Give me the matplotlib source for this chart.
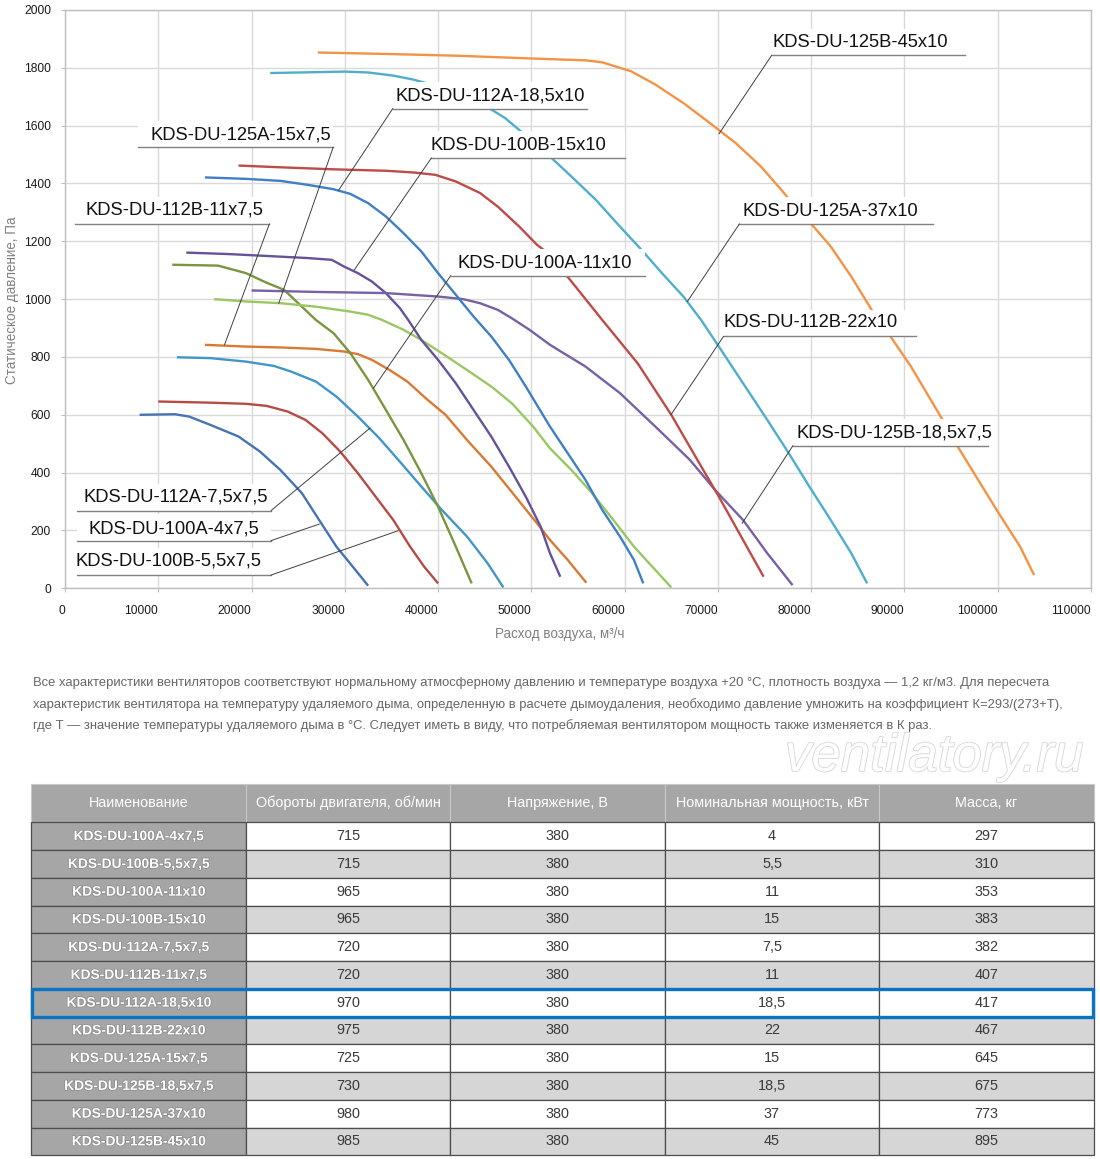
import matplotlib
matplotlib.use('Agg')
import matplotlib.pyplot as plt
from matplotlib import font_manager as fm
from matplotlib.font_manager import FontProperties
from matplotlib.patches import Rectangle
import matplotlib.patheffects as pe

# ---------------- data ----------------
models = ['KDS-DU-100A-4x7,5', 'KDS-DU-100B-5,5x7,5', 'KDS-DU-100A-11x10', 'KDS-DU-100B-15x10',
          'KDS-DU-112A-7,5x7,5', 'KDS-DU-112B-11x7,5', 'KDS-DU-112A-18,5x10', 'KDS-DU-112B-22x10',
          'KDS-DU-125A-15x7,5', 'KDS-DU-125B-18,5x7,5', 'KDS-DU-125A-37x10', 'KDS-DU-125B-45x10']
rpm = [715, 715, 965, 965, 720, 720, 970, 975, 725, 730, 980, 985]
voltage = [380] * 12
power = ['4', '5,5', '11', '15', '7,5', '11', '18,5', '22', '15', '18,5', '37', '45']
mass = [297, 310, 353, 383, 382, 407, 417, 467, 645, 675, 773, 895]
table_header = ['Наименование', 'Обороты двигателя, об/мин', 'Напряжение, В',
                'Номинальная мощность, кВт', 'Масса, кг']

# flow (m3/h) and static pressure (Pa) per fan
q_100A_4 = [8000, 11800, 13300, 15600, 18600, 20900, 23100, 25400, 27250, 29100, 31000, 32500]
p_100A_4 = [600, 602, 594, 565, 525, 473, 409, 329, 236, 144, 69, 9]
q_100B_55 = [10000, 15600, 19400, 21600, 23900, 25800, 27600, 29500, 31400, 33300, 35200, 37000, 38500, 40000]
p_100B_55 = [646, 642, 638, 631, 611, 582, 536, 473, 398, 317, 236, 144, 75, 17]
q_112A_75 = [12000, 15600, 19400, 22400, 24200, 26900, 29100, 31400, 33700, 35900, 38200, 40400, 43100, 45300, 47000]
p_112A_75 = [799, 796, 784, 769, 750, 715, 663, 594, 519, 438, 352, 271, 179, 87, 3]
q_112B_11 = [15000, 19400, 23100, 26900, 29900, 31400, 32900, 34800, 36700, 38900, 40800, 43100, 45700, 48300,
             50600, 52000, 53900, 55900]
p_112B_11 = [842, 836, 833, 828, 819, 810, 790, 755, 715, 651, 600, 513, 421, 317, 225, 167, 98, 19]
q_100A_11 = [11500, 16400, 19400, 21600, 23500, 25400, 26900, 28800, 30600, 32500, 34400, 36300, 38200, 40000,
             41900, 43600]
p_100A_11 = [1119, 1116, 1090, 1057, 1032, 974, 928, 882, 813, 721, 617, 513, 398, 282, 144, 17]
q_125A_15 = [16000, 19400, 23100, 26900, 30600, 32500, 34000, 36300, 38200, 40400, 43100, 45700, 47900, 50200,
             52000, 54300, 56500, 58800, 61000, 63300, 65000]
p_125A_15 = [1000, 992, 986, 974, 957, 946, 928, 894, 859, 813, 755, 698, 640, 559, 484, 409, 329, 236, 144, 63, 3]
q_100B_15 = [13000, 17500, 23100, 26100, 28600, 29900, 31400, 32900, 34400, 35900, 36800, 38200, 40000, 41900,
             43800, 45700, 47600, 49400, 51000, 52000, 53100]
p_100B_15 = [1161, 1156, 1147, 1142, 1136, 1113, 1090, 1061, 1021, 969, 928, 859, 790, 709, 617, 525, 421, 317,
             213, 121, 40]
q_125B_185 = [20000, 26900, 34400, 40000, 42700, 44500, 46400, 47900, 49800, 52000, 55800, 59500, 63300, 67000,
              69700, 72700, 75300, 78000]
p_125B_185 = [1030, 1025, 1021, 1009, 1000, 986, 963, 934, 894, 842, 767, 675, 559, 444, 340, 236, 121, 11]
q_112A_185 = [15000, 19400, 23100, 26100, 28800, 30600, 32500, 34400, 36300, 38200, 40000, 41900, 43800, 45700,
              47600, 49400, 52000, 53900, 55800, 57600, 59500, 61000, 62000]
p_112A_185 = [1421, 1416, 1409, 1395, 1380, 1364, 1332, 1286, 1228, 1165, 1090, 1015, 940, 871, 790, 698, 559,
              467, 375, 271, 179, 98, 17]
q_112B_22 = [18600, 23100, 28800, 34400, 37400, 39700, 41900, 44500, 46400, 48700, 50600, 51700, 54150, 57600,
             61400, 65000, 67800, 70100, 72300, 74900]
p_112B_22 = [1462, 1456, 1449, 1444, 1438, 1430, 1407, 1367, 1320, 1251, 1188, 1161, 1067, 928, 778, 600, 444,
             317, 190, 40]
q_125A_37 = [22000, 26900, 29900, 32500, 35200, 37400, 39300, 42300, 45300, 47200, 49100, 52000, 54300, 56900,
             59500, 61800, 64000, 66300, 68200, 70100, 72700, 75300, 77600, 79800, 82100, 84300, 86000]
p_125A_37 = [1782, 1785, 1787, 1784, 1773, 1759, 1742, 1706, 1664, 1626, 1574, 1493, 1424, 1344, 1251, 1171,
             1090, 1009, 928, 836, 709, 582, 467, 352, 236, 121, 17]
q_125B_45 = [27100, 34400, 41900, 52000, 55800, 57600, 60700, 63300, 66300, 68900, 71900, 74600, 76800, 78300,
             79800, 82100, 84300, 86600, 88500, 90700, 94100, 95600, 97900, 100100, 102400, 103900]
p_125B_45 = [1853, 1848, 1842, 1830, 1826, 1819, 1788, 1742, 1678, 1615, 1540, 1459, 1378, 1320, 1268, 1182,
             1078, 957, 871, 767, 582, 496, 375, 260, 144, 46]

curves = [
    (q_100A_4, p_100A_4, '#4673B5'),
    (q_100B_55, p_100B_55, '#B64B45'),
    (q_112A_75, p_112A_75, '#4196C8'),
    (q_112B_11, p_112B_11, '#DA7A32'),
    (q_100A_11, p_100A_11, '#79963F'),
    (q_125A_15, p_125A_15, '#9BC763'),
    (q_100B_15, p_100B_15, '#66529A'),
    (q_125B_185, p_125B_185, '#7761A3'),
    (q_112A_185, p_112A_185, '#3F7FC6'),
    (q_112B_22, p_112B_22, '#BE4B48'),
    (q_125A_37, p_125A_37, '#4EAECC'),
    (q_125B_45, p_125B_45, '#F59345'),
]

# call-out labels: text, underline q-from, q-to, underline p, text-left q, text-centre p, leader side, target q, target p
callouts = [
    ('KDS-DU-125B-45x10', 75760, 96490, 1843, 75800, 1886, 'L', 70120, 1572),
    ('KDS-DU-112A-18,5x10', 35140, 56010, 1659, 35440, 1701, 'L', 29320, 1376),
    ('KDS-DU-125A-15x7,5', 7880, 28750, 1525, 9200, 1569, 'R', 22920, 986),
    ('KDS-DU-100B-15x10', 39280, 60000, 1488, 39200, 1531, 'L', 31010, 1101),
    ('KDS-DU-112B-11x7,5', 1115, 21910, 1260, 2250, 1307, 'R', 17100, 842),
    ('KDS-DU-100A-11x10', 41350, 62150, 1081, 42100, 1125, 'L', 33070, 692),
    ('KDS-DU-125A-37x10', 72300, 93100, 1260, 72600, 1303, 'L', 66730, 992),
    ('KDS-DU-112B-22x10', 70600, 91280, 871, 70650, 918, 'L', 64960, 600),
    ('KDS-DU-125B-18,5x7,5', 78040, 98990, 493, 78440, 536, 'L', 72600, 225),
    ('KDS-DU-112A-7,5x7,5', 1310, 22100, 269, 1980, 317, 'R', 32700, 554),
    ('KDS-DU-100A-4x7,5', 1310, 22100, 165, 2540, 204, 'R', 27250, 222),
    ('KDS-DU-100B-5,5x7,5', 1310, 22100, 46, 1115, 96, 'R', 35710, 199),
]

note_lines = [
    'Все характеристики вентиляторов соответствуют нормальному атмосферному давлению и температуре воздуха +20 °С, плотность воздуха — 1,2 кг/м3. Для пересчета',
    'характеристик вентилятора на температуру удаляемого дыма, определенную в расчете дымоудаления, необходимо давление умножить на коэффициент К=293/(273+Т),',
    'где Т — значение температуры удаляемого дыма в °С. Следует иметь в виду, что потребляемая вентилятором мощность также изменяется в К раз.',
]

# ---------------- fonts ----------------
avail = {f.name for f in fm.fontManager.ttflist}
NARROW = 'Liberation Sans Narrow' if 'Liberation Sans Narrow' in avail else 'Liberation Sans'
FAM = [NARROW, 'DejaVu Sans']
plt.rcParams['font.family'] = FAM

W, H = 1100, 1159
fig = plt.figure(figsize=(W / 100, H / 100), dpi=100)
renderer = fig.canvas.get_renderer()


def fit(s, target, weight='normal', style='normal', family=NARROW):
    fp = FontProperties(family=family, size=10, weight=weight, style=style)
    w, h, d = renderer.get_text_width_height_descent(s, fp, ismath=False)
    return 10 * target / w


# ---------------- chart ----------------
L, R, T, B = 65, 1091, 10, 588.3
ax = fig.add_axes([L / W, 1 - B / H, (R - L) / W, (B - T) / H])
ax.set_xlim(0, 110000)
ax.set_ylim(0, 2000)
ax.set_xticks(range(0, 110001, 10000))
ax.set_yticks(range(0, 2001, 200))
ax.grid(True, color='#D9D9D9', lw=1.0, zorder=0)
ax.set_axisbelow(True)
for s in ax.spines.values():
    s.set_color('#BFBFBF')
    s.set_linewidth(1.0)

tick_fs = fit('100000', 40)
ax.tick_params(axis='both', length=3, color='#BFBFBF', labelsize=tick_fs, labelcolor='#1A1A1A')
ax.tick_params(axis='x', pad=9)
ax.tick_params(axis='y', pad=7)
ax.set_xticklabels([str(v) for v in range(0, 110001, 10000)], ha='right')
ax.set_yticklabels([str(v) for v in range(0, 2001, 200)])

title_fs = fit('Расход воздуха, м³/ч', 130)
ax.set_xlabel('Расход воздуха, м³/ч', fontsize=title_fs, color='#808080')
ax.xaxis.set_label_coords((560 - L) / (R - L), (B - 634) / (B - T))
ax.xaxis.label.set_va('center')
ax.set_ylabel('Статическое давление, Па', fontsize=title_fs, color='#808080')
ax.yaxis.set_label_coords((12.5 - L) / (R - L), (B - 300) / (B - T))
ax.yaxis.label.set_va('center')

for q, p, c in curves:
    ax.plot(q, p, color=c, lw=1.7, zorder=2, solid_capstyle='butt')

lab_fs = fit('KDS-DU-125B-45x10', 176)
for (txt, q0, q1, pu, qt, pt, side, tq, tp) in callouts:
    ax.add_patch(Rectangle((q0, pu), q1 - q0, 92, facecolor='white', edgecolor='none', zorder=3))
    ax.plot([q0, q1], [pu, pu], color='#808080', lw=1.0, zorder=4)
    sq = q0 if side == 'L' else q1
    ax.plot([sq, tq], [pu, tp], color='#404040', lw=0.7, zorder=4)
    ax.text(qt, pt, txt, fontsize=lab_fs, color='#111111', ha='left', va='center', zorder=5)

# ---------------- overlay (note + table) ----------------
ov = fig.add_axes([0, 0, 1, 1])
ov.set_xlim(0, W)
ov.set_ylim(H, 0)
ov.axis('off')

note_fs = fit(note_lines[0], 1020)
for i, line in enumerate(note_lines):
    ov.text(33, 683 + 21.5 * i, line, fontsize=note_fs, color='#666666', ha='left', va='center')

wm_fs = fit('ventilatory.ru', 300, style='italic')
ov.text(785, 757, 'ventilatory.ru', fontsize=wm_fs, style='italic', color='white', alpha=0.9,
        ha='left', va='center',
        path_effects=[pe.withStroke(linewidth=1.2, foreground='#D4D4D4')])

cols = [31, 246, 450, 665, 879, 1094]
hdr_top, hdr_bot = 784, 822.3
rh = 27.75
hdr_fs = fit('Обороты двигателя, об/мин', 186)
name_fs = fit('KDS-DU-100A-4x7,5', 130, weight='bold')
val_fs = hdr_fs

for j in range(5):
    ov.add_patch(Rectangle((cols[j], hdr_top), cols[j + 1] - cols[j], hdr_bot - hdr_top,
                           facecolor='#A6A6A6', edgecolor='#C8C8C8', lw=0.8))
    ov.text((cols[j] + cols[j + 1]) / 2, (hdr_top + hdr_bot) / 2, table_header[j], fontsize=hdr_fs,
            color='white', ha='center', va='center')

rows = list(zip(models, rpm, voltage, power, mass))
for i, row in enumerate(rows):
    y0 = hdr_bot + rh * i
    fill = 'white' if i % 2 == 0 else '#D6D6D6'
    for j in range(5):
        fc = '#A6A6A6' if j == 0 else fill
        ov.add_patch(Rectangle((cols[j], y0), cols[j + 1] - cols[j], rh, facecolor=fc,
                               edgecolor='#4D4D4D', lw=0.9))
        xc = (cols[j] + cols[j + 1]) / 2
        if j == 0:
            ov.text(xc, y0 + rh / 2, row[j], fontsize=name_fs, weight='bold', color='white',
                    ha='center', va='center',
                    path_effects=[pe.withStroke(linewidth=1.0, foreground='#8A8A8A')])
        else:
            ov.text(xc, y0 + rh / 2, str(row[j]), fontsize=val_fs, color='#3A3A3A',
                    ha='center', va='center')

hi = models.index('KDS-DU-112A-18,5x10')
ov.add_patch(Rectangle((cols[0] + 1, hdr_bot + rh * hi), cols[-1] - cols[0] - 2, rh,
                       facecolor='none', edgecolor='#0B74C0', lw=2.4, zorder=5))

fig.savefig('out.png', dpi=100)
